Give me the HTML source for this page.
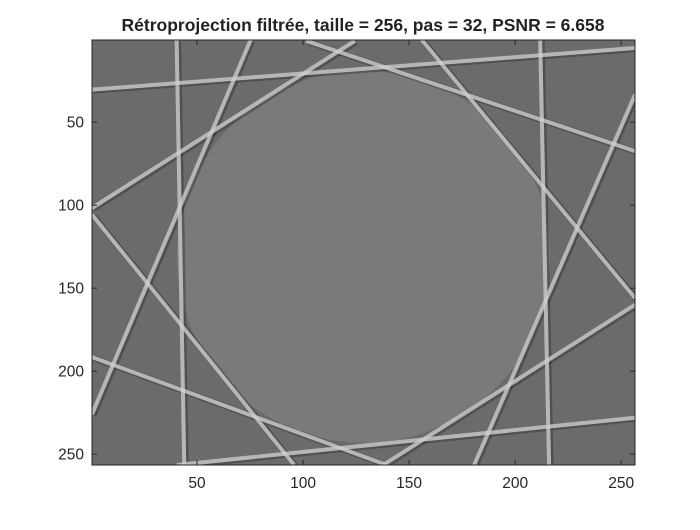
<!DOCTYPE html>
<html><head><meta charset="utf-8"><style>
body{margin:0;background:#fff;width:700px;height:525px;overflow:hidden;font-family:"Liberation Sans",Arial,sans-serif}
</style></head><body>
<svg id="chart" width="700" height="525" xmlns="http://www.w3.org/2000/svg">
<defs><clipPath id="clip"><rect x="92" y="40" width="543" height="425"/></clipPath></defs>
<text x="363" y="31" text-anchor="middle" font-size="17.5" font-weight="bold" fill="#222">Rétroprojection filtrée, taille = 256, pas = 32, PSNR = 6.658</text>
<g id="plot" clip-path="url(#clip)">
<rect x="92" y="40" width="543" height="425" fill="#6b6b6b"/>
</g>
<rect x="92" y="40" width="543" height="425" fill="none" stroke="#262626" stroke-width="1"/>
<g id="ticks" font-size="15.5" fill="#262626"></g>
</svg>
<script>
const xTicks=[50,100,150,200,250];
const yTicks=[50,100,150,200,250];
const lineStartX=[40.4,211.8,0.5,101.4,0.5,75.3,156,0.5,180.7,137.8,0.5,40.5];
const lineStartY=[0.5,0.5,30.4,1,101.7,0.5,0.5,105.7,256.5,256.5,191.5,256.5];
const lineEndX=[44,216,256.5,256.5,124.5,0.5,256.5,95.8,256.5,256.5,139.5,256.5];
const lineEndY=[256.5,256.5,5.3,67.4,1,226,156,256.5,33.5,160,256.5,228];
const circleCenter=[128.5,131];
const circleRadius=[88,112];
const NS="http://www.w3.org/2000/svg";
const L=92,T=40,W=543,H=425;
function sx(v){return L+(v-0.5)*W/256;}
function sy(v){return T+(v-0.5)*H/256;}
const plot=document.getElementById('plot');
const e=document.createElementNS(NS,'ellipse');


e.setAttribute('cx',sx(circleCenter[0]));e.setAttribute('cy',sy(circleCenter[1]));
e.setAttribute('rx',circleRadius[0]*W/256);e.setAttribute('ry',circleRadius[1]*H/256);
e.setAttribute('fill','#7a7a7a');
plot.appendChild(e);
for(let i=0;i<lineStartX.length;i++){
  const d=document.createElementNS(NS,'line');
  
  
  d.setAttribute('x1',sx(lineStartX[i])+1.5);d.setAttribute('y1',sy(lineStartY[i])+1);
  d.setAttribute('x2',sx(lineEndX[i])+1.5);d.setAttribute('y2',sy(lineEndY[i])+1);
  d.setAttribute('stroke','#303030');d.setAttribute('stroke-width','6');d.setAttribute('stroke-opacity','0.45');
  plot.appendChild(d);
}
for(let i=0;i<lineStartX.length;i++){
  const l=document.createElementNS(NS,'line');
  
  
  l.setAttribute('x1',sx(lineStartX[i]));l.setAttribute('y1',sy(lineStartY[i]));
  l.setAttribute('x2',sx(lineEndX[i]));l.setAttribute('y2',sy(lineEndY[i]));
  l.setAttribute('stroke','#d0d0d0');l.setAttribute('stroke-width','4');l.setAttribute('stroke-opacity','0.8');
  plot.appendChild(l);
}
const tg=document.getElementById('ticks');
xTicks.forEach(v=>{
  const t=document.createElementNS(NS,'text');
  
  
  t.setAttribute('x',sx(v));t.setAttribute('y',488);t.setAttribute('text-anchor','middle');
  t.textContent=v;tg.appendChild(t);
  [[465,460],[40,45]].forEach(p=>{
    const m=document.createElementNS(NS,'line');
    
    
    m.setAttribute('x1',sx(v));m.setAttribute('x2',sx(v));m.setAttribute('y1',p[0]);m.setAttribute('y2',p[1]);
    m.setAttribute('stroke','#262626');tg.appendChild(m);
  });
});
yTicks.forEach(v=>{
  const t=document.createElementNS(NS,'text');
  
  
  t.setAttribute('x',84);t.setAttribute('y',sy(v)+5.5);t.setAttribute('text-anchor','end');
  t.textContent=v;tg.appendChild(t);
  [[92,97],[635,630]].forEach(p=>{
    const m=document.createElementNS(NS,'line');
    
    
    m.setAttribute('x1',p[0]);m.setAttribute('x2',p[1]);m.setAttribute('y1',sy(v));m.setAttribute('y2',sy(v));
    m.setAttribute('stroke','#262626');tg.appendChild(m);
  });
});
</script>
</body></html>
